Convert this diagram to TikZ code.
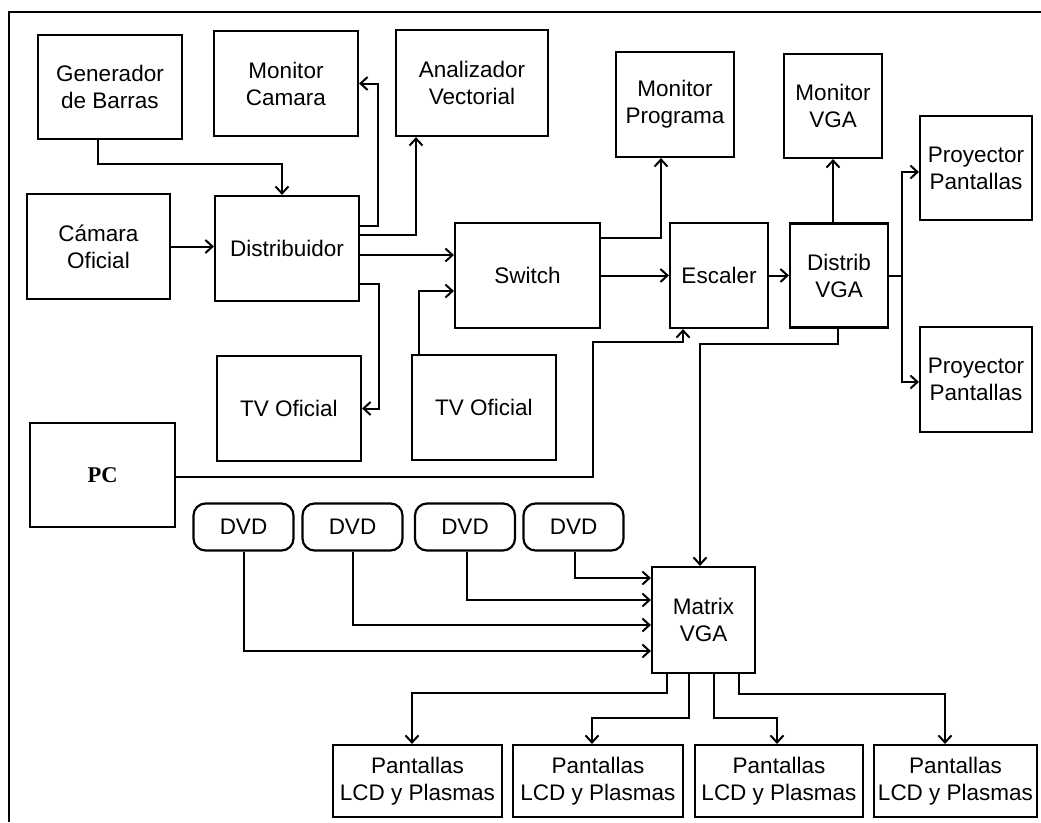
\documentclass[tikz,border=0pt]{standalone}
\usepackage{fontspec}
\setmainfont{Liberation Sans}
\newfontfamily\pcfont{Liberation Serif}
\usepackage{tikz}
\usetikzlibrary{arrows.meta, shapes.geometric, positioning}
\tikzstyle{box} = [rectangle, draw=black, line width=2.2pt, text centered, align=center, inner sep=0pt]
\tikzstyle{roundNode} = [rectangle, rounded corners=12pt, draw=black, line width=2.2pt, text centered, inner sep=0pt, minimum width=100pt, minimum height=47pt]
\tikzstyle{lcdNode} = [box, minimum height=72pt]
\tikzstyle{arrow} = [line width=2pt, ->, >={Straight Barb[length=7pt, width=13pt]}]
\tikzstyle{line} = [line width=2pt]

\begin{document}
\begin{tikzpicture}[x=1pt, y=-1pt, font=\fontsize{22.5}{27}\selectfont]
                            \useasboundingbox (0,0) rectangle (1041,822);
                            \draw [line] (9,822) -- (9,12) -- (1041,12);
                            \node (gen) [box, minimum width=144pt, minimum height=104pt] at (110,87) {Generador\\de Barras};
                            \node (moncam) [box, minimum width=144pt, minimum height=105pt] at (286,83.5) {Monitor\\Camara};
                            \node (anal) [box, minimum width=152pt, minimum height=106pt] at (472,83) {Analizador\\Vectorial};
                            \node (monprog) [box, minimum width=118pt, minimum height=105pt] at (675,104.5) {Monitor\\Programa};
                            \node (monvga) [box, minimum width=98pt, minimum height=104pt] at (833,106) {Monitor\\VGA};
                            \node (proy1) [box, minimum width=112pt, minimum height=104pt] at (976,168) {Proyector\\Pantallas};
                            \node (camara) [box, minimum width=143pt, minimum height=105pt] at (98.5,246.5) {Cámara\\Oficial};
                            \node (distrib) [box, minimum width=144pt, minimum height=105pt] at (287,248.5) {Distribuidor};
                            \node (switch) [box, minimum width=145pt, minimum height=105pt] at (527.5,275.5) {Switch};
                            \node (escaler) [box, minimum width=98pt, minimum height=105pt] at (719,275.5) {Escaler};
                            \node (dvga) [box, minimum width=98pt, minimum height=104pt] at (839,275.5) {Distrib\\VGA};
                            \node (proy2) [box, minimum width=112pt, minimum height=105pt] at (976,379.5) {Proyector\\Pantallas};
                            \node (tv1) [box, minimum width=144pt, minimum height=105pt] at (289,408.5) {TV Oficial};
                            \node (tv2) [box, minimum width=144pt, minimum height=105pt] at (484,407.5) {TV Oficial};
                            \node (pc) [box, minimum width=145pt, minimum height=104pt] at (102.5,475) {\pcfont\bfseries PC};
                            \node (dvd1) [roundNode] at (243.5,527) {DVD};
                            \node (dvd2) [roundNode] at (352.5,527) {DVD};
                            \node (dvd3) [roundNode] at (465,527) {DVD};
                            \node (dvd4) [roundNode] at (573.5,527) {DVD};
                            \node (matrix) [box, minimum width=103pt, minimum height=106pt] at (703.5,620) {Matrix\\VGA};
                            \node (lcd1) [lcdNode, minimum width=169pt] at (417.5,781) {Pantallas\\LCD y Plasmas};
                            \node (lcd2) [lcdNode, minimum width=170pt] at (598,781) {Pantallas\\LCD y Plasmas};
                            \node (lcd3) [lcdNode, minimum width=168pt] at (779,781) {Pantallas\\LCD y Plasmas};
                            \node (lcd4) [lcdNode, minimum width=163pt] at (955.5,781) {Pantallas\\LCD y Plasmas};
                            \draw [arrow] ([xshift=-12pt]gen.south) -- ++(0,24) -| ([xshift=-5pt]distrib.north);
                            \draw [arrow] (camara.east) -- (camara.east -| distrib.west);
                            \draw [arrow] ([yshift=23pt]distrib.east) -- ++(18,0) |- (moncam.east);
                            \draw [arrow] ([yshift=13.5pt]distrib.east) -| ([xshift=-56pt]anal.south);
                            \draw [arrow] ([yshift=-6.5pt]distrib.east) -- ([yshift=20.5pt]switch.west);
                            \draw [arrow] ([yshift=-35.5pt]distrib.east) -- ++(19,0) |- (tv1.east);
                            \draw [arrow] ([xshift=-65pt]tv2.north) |- ([yshift=-15.5pt]switch.west);
                            \draw [arrow] ([yshift=37.5pt]switch.east) -| ([xshift=-14pt]monprog.south);
                            \draw [arrow] (switch.east) -- (escaler.west);
                            \draw [arrow] (escaler.east) -- (dvga.west);
                            \draw [arrow] ([xshift=-6pt]dvga.north) -- (monvga.south);
                            \draw [arrow] (dvga.east) -- ++(13,0) |- ([yshift=-4pt]proy1.west);
                            \draw [arrow] (dvga.east) -- ++(13,0) |- ([yshift=-2.5pt]proy2.west);
                            \draw [arrow] ([xshift=-1pt]dvga.south) -- ++(0,15) -| ([xshift=-3.5pt]matrix.north);
                            \draw [arrow] ([yshift=-2pt]pc.east) -- ++(417,0) -- ++(0,-135) -| ([xshift=-36pt]escaler.south);
                            \draw [arrow] (dvd1.south) |- ([yshift=-31pt]matrix.west);
                            \draw [arrow] (dvd2.south) |- ([yshift=-5pt]matrix.west);
                            \draw [arrow] ([xshift=2pt]dvd3.south) |- ([yshift=20pt]matrix.west);
                            \draw [arrow] ([xshift=1.5pt]dvd4.south) |- ([yshift=42pt]matrix.west);
                            \draw [arrow] ([xshift=-36.5pt]matrix.south) -- ++(0,19) -| ([xshift=-5.5pt]lcd1.north);
                            \draw [arrow] ([xshift=-14.5pt]matrix.south) -- ++(0,44) -| ([xshift=-6pt]lcd2.north);
                            \draw [arrow] ([xshift=10.5pt]matrix.south) -- ++(0,44) -| ([xshift=-2pt]lcd3.north);
                            \draw [arrow] ([xshift=35.5pt]matrix.south) -- ++(0,20) -| ([xshift=-10.5pt]lcd4.north);
                        \end{tikzpicture}
\end{document}
